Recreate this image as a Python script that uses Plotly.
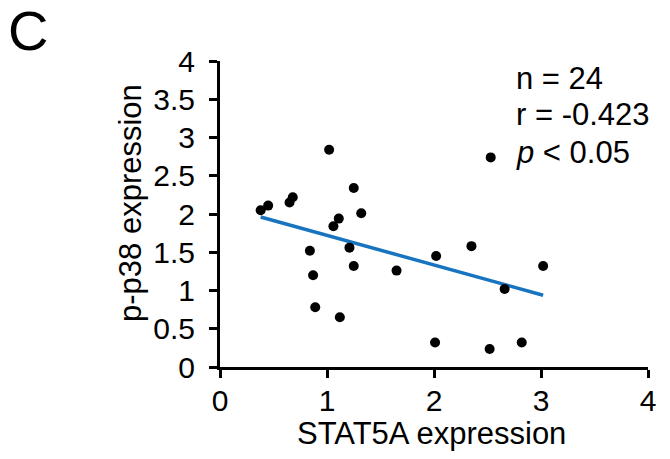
import numpy as np
import plotly.graph_objects as go

# STAT5A vs p-p38 expression, one point per sample
stat5a = [0.38, 0.45, 0.65, 0.68, 1.02, 1.25, 1.11, 1.06, 1.32, 0.84, 1.21, 0.87,
          1.25, 1.65, 2.02, 0.89, 1.12, 2.01, 2.35, 3.02, 2.66, 2.52, 2.82, 2.53]
p_p38 = [2.05, 2.11, 2.15, 2.22, 2.84, 2.34, 1.94, 1.84, 2.01, 1.52, 1.56, 1.20,
         1.32, 1.26, 1.45, 0.78, 0.65, 0.32, 1.58, 1.32, 1.02, 0.235, 0.32, 2.74]

x_ticks = [0, 1, 2, 3, 4]
y_ticks = [0, 0.5, 1, 1.5, 2, 2.5, 3, 3.5, 4]
y_tick_text = ["0", "0.5", "1", "1.5", "2", "2.5", "3", "3.5", "4"]

stats_lines = ["n = 24", "r = -0.423", "<i>p</i> &lt; 0.05"]

W, H = 670, 459
ML, MR, MT, MB = 220, 22, 61, 92
PW, PH = W - ML - MR, H - MT - MB


def px_x(px):
    return (px - ML) / PW


def px_y(py):
    return (H - MB - py) / PH


# least-squares trend line over the observed STAT5A range
slope, intercept = np.polyfit(stat5a, p_p38, 1)
fit_x = [min(stat5a), max(stat5a)]
fit_y = [slope * v + intercept for v in fit_x]

FONT = "Arial, Liberation Sans, sans-serif"

fig = go.Figure()
fig.add_trace(go.Scatter(x=fit_x, y=fit_y, mode="lines",
                         line=dict(color="#1874C0", width=3.5),
                         hoverinfo="skip", showlegend=False))
fig.add_trace(go.Scatter(x=stat5a, y=p_p38, mode="markers",
                         marker=dict(color="black", size=10),
                         showlegend=False))

axis_common = dict(showline=True, linecolor="black", linewidth=3,
                   ticks="outside", ticklen=8, tickwidth=3, tickcolor="black",
                   showgrid=False, zeroline=False,
                   tickfont=dict(family=FONT, size=30, color="black"))

fig.update_xaxes(range=[0, 4], tickvals=x_ticks,
                 ticktext=[str(t) for t in x_ticks],
                 ticklabelstandoff=-3, **axis_common)
fig.update_yaxes(range=[0, 4], tickvals=y_ticks, ticktext=y_tick_text,
                 ticklabelstandoff=8, **axis_common)

annotations = [
    dict(text="STAT5A expression", x=px_x(431), y=px_y(433),
         xanchor="center", yanchor="middle", font=dict(size=31)),
    dict(text="p-p38 expression", x=px_x(130), y=px_y(203), textangle=-90,
         xanchor="center", yanchor="middle", font=dict(size=31)),
    dict(text="C", x=px_x(6), y=px_y(51), xanchor="left", yanchor="bottom",
         yshift=-13, font=dict(size=56)),
]
for i, (line, base) in enumerate(zip(stats_lines, [88.3, 124.0, 161.7])):
    annotations.append(dict(text=line, x=px_x(514), y=px_y(base - 9.5),
                            xanchor="left", yanchor="middle",
                            font=dict(size=31)))
for a in annotations:
    a.update(xref="paper", yref="paper", showarrow=False)
    a["font"] = dict(family=FONT, color="black", **a["font"])

fig.update_layout(width=W, height=H, margin=dict(l=ML, r=MR, t=MT, b=MB),
                  plot_bgcolor="white", paper_bgcolor="white",
                  annotations=annotations)

fig.write_html("out.html")
